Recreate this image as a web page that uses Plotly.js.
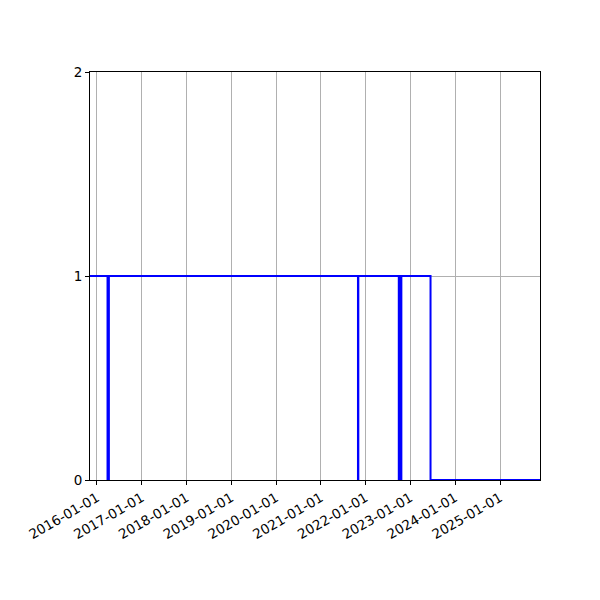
<!DOCTYPE html>
<html>
<head>
<meta charset="utf-8">
<script src="https://cdn.plot.ly/plotly-3.0.1.min.js"></script>
<style>html,body{margin:0;padding:0;background:#fff;}#chart{width:600px;height:600px;}</style>
</head>
<body>
<div id="chart"></div>
<script>
// step series (0/1 state), values change at these dates
const dates = ["2015-11-05","2016-03-27","2016-04-07","2021-10-30","2021-11-02","2022-09-28","2022-10-08","2022-10-09","2022-10-19","2023-06-14","2025-11-23"];
const values = [1, 0, 1, 0, 1, 0, 1, 0, 1, 0, 0];
const xTicks = ["2016-01-01","2017-01-01","2018-01-01","2019-01-01","2020-01-01","2021-01-01","2022-01-01","2023-01-01","2024-01-01","2025-01-01"];
const yTicks = [0, 1, 2];

const trace = {
  x: dates, y: values, type: "scatter", mode: "lines",
  line: {shape: "hv", color: "#0000ff", width: 2},
  hoverinfo: "skip"
};
const axisCommon = {
  showline: true, linecolor: "#000", linewidth: 1, mirror: true,
  ticks: "outside", ticklen: 4, tickwidth: 1, tickcolor: "#000",
  showgrid: true, gridcolor: "#b0b0b0", gridwidth: 1, zeroline: false
};
const layout = {
  width: 600, height: 600,
  margin: {l: 90, r: 60, t: 72, b: 120},
  paper_bgcolor: "#fff", plot_bgcolor: "#fff",
  font: {family: "DejaVu Sans", size: 13.5, color: "#000"},
  showlegend: false,
  xaxis: Object.assign({}, axisCommon, {
    type: "date", range: [dates[0], dates[dates.length-1]],
    tickmode: "array", tickvals: xTicks, ticktext: xTicks, tickangle: -30
  }),
  yaxis: Object.assign({}, axisCommon, {
    range: [0, 2], tickmode: "array", tickvals: yTicks, ticktext: yTicks.map(String)
  })
};
Plotly.newPlot("chart", [trace], layout, {displayModeBar: false, staticPlot: true});
</script>
</body>
</html>
